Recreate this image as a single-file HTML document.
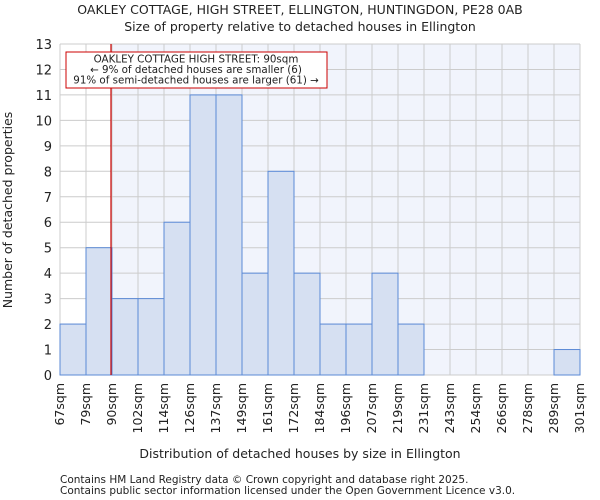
<!DOCTYPE html>
<html><head><meta charset="utf-8"><style>body{margin:0;background:#fff}svg{display:block}text{font-family:"DejaVu Sans","Liberation Sans",sans-serif;fill:#222}</style></head>
<body>
<svg id="c" width="600" height="500">
<text x="300" y="14" font-size="12.5" text-anchor="middle">OAKLEY COTTAGE, HIGH STREET, ELLINGTON, HUNTINGDON, PE28 0AB</text>
<text x="300" y="31" font-size="12.5" text-anchor="middle">Size of property relative to detached houses in Ellington</text>
<g id="plot"></g>
<text x="300" y="458" font-size="12.5" text-anchor="middle">Distribution of detached houses by size in Ellington</text>
<text transform="translate(12,210) rotate(-90)" font-size="12.5" text-anchor="middle">Number of detached properties</text>
<text x="60" y="483" font-size="10.5" fill="#444">Contains HM Land Registry data © Crown copyright and database right 2025.</text>
<text x="60" y="494" font-size="10.5" fill="#444">Contains public sector information licensed under the Open Government Licence v3.0.</text>
</svg>
<script>
const categories=["67sqm","79sqm","90sqm","102sqm","114sqm","126sqm","137sqm","149sqm","161sqm","172sqm","184sqm","196sqm","207sqm","219sqm","231sqm","243sqm","254sqm","266sqm","278sqm","289sqm","301sqm"];
const counts=[2,5,3,3,6,11,11,4,8,4,2,2,4,2,0,0,0,0,0,1];
const yTicks=[0,1,2,3,4,5,6,7,8,9,10,11,12,13];
const propertyBin=2;
const NS="http://www.w3.org/2000/svg";
const X0=60,X1=580,Y0=375,Y1=44,YMAX=13;
const bw=(X1-X0)/counts.length;
const xs=i=>X0+i*bw;
const ys=v=>Y0-(Y0-Y1)*v/YMAX;
const g=document.getElementById('plot');
function mk(t,a){const e=document.createElementNS(NS,t);for(const k in a)e.setAttribute(k,a[k]);g.appendChild(e);return e;}
const bg=mk('rect',{x:xs(propertyBin),y:Y1,width:X1-xs(propertyBin),height:Y0-Y1,fill:'#f1f4fc'});


for(let i=0;i<=counts.length;i++){const l=mk('line',{x1:xs(i),x2:xs(i),y1:Y1,y2:Y0,stroke:'#ccc','stroke-width':1});

}
yTicks.forEach(v=>{const l=mk('line',{x1:X0,x2:X1,y1:ys(v),y2:ys(v),stroke:'#ccc','stroke-width':1});


const t=mk('text',{x:X0-8,y:ys(v)+5,'font-size':13,'text-anchor':'end'});t.textContent=v;

});
counts.forEach((v,i)=>{if(v<=0)return;const r=mk('rect',{x:xs(i),y:ys(v),width:bw,height:ys(0)-ys(v),fill:'#d6e0f2',stroke:'#5b8ad6','stroke-width':1});

});
categories.forEach((c,i)=>{const x=xs(i)+4;const t=mk('text',{transform:`translate(${x},${Y0+8}) rotate(-90)`,'font-size':12.5,'text-anchor':'end'});t.textContent=c;

});
const ml=mk('line',{x1:xs(propertyBin)-1,x2:xs(propertyBin)-1,y1:Y1,y2:Y0,stroke:'#c00','stroke-width':1.2});


const box=mk('rect',{x:66,y:52,width:261,height:36,fill:'#fff',stroke:'#c00','stroke-width':1});


["OAKLEY COTTAGE HIGH STREET: 90sqm","← 9% of detached houses are smaller (6)","91% of semi-detached houses are larger (61) →"].forEach((s,k)=>{const t=mk('text',{x:196,y:62.5+k*10.5,'font-size':10.3,'text-anchor':'middle'});t.textContent=s;

});
</script>
</body></html>
